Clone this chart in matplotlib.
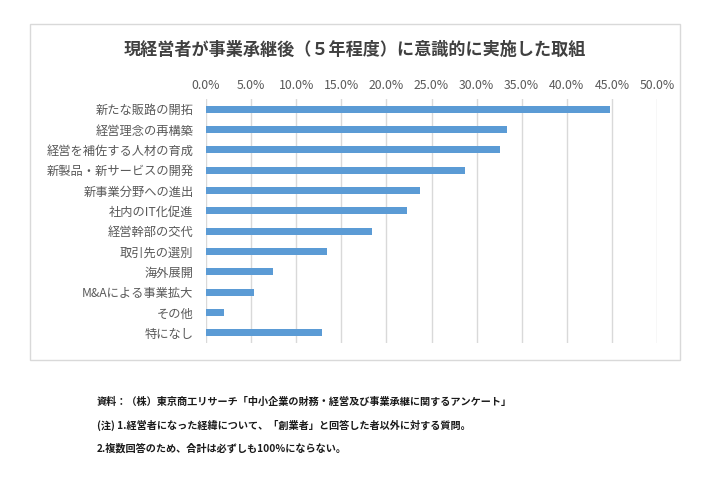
import matplotlib
matplotlib.use('Agg')
import matplotlib.pyplot as plt
from matplotlib.patches import Rectangle
from matplotlib.ticker import FuncFormatter

plt.rcParams['font.family'] = ['Noto Sans CJK JP', 'DejaVu Sans']

# 取組の項目（上から順）
categories = ['新たな販路の開拓', '経営理念の再構築', '経営を補佐する人材の育成',
              '新製品・新サービスの開発', '新事業分野への進出', '社内のIT化促進',
              '経営幹部の交代', '取引先の選別', '海外展開', 'M&Aによる事業拡大',
              'その他', '特になし']
values = [44.8, 33.4, 32.6, 28.7, 23.7, 22.3, 18.4, 13.4, 7.4, 5.3, 2.0, 12.9]
ticks = [0, 5, 10, 15, 20, 25, 30, 35, 40, 45, 50]

title = '現経営者が事業承継後（５年程度）に意識的に実施した取組'
notes = ['資料：（株）東京商工リサーチ「中小企業の財務・経営及び事業承継に関するアンケート」',
         '(注) 1.経営者になった経緯について、「創業者」と回答した者以外に対する質問。',
         '2.複数回答のため、合計は必ずしも100%にならない。']

fig = plt.figure(figsize=(7.21, 4.82), dpi=100)
fig.patch.set_facecolor('white')

# グラフの枠
fig.patches.append(Rectangle((30/721, 1-360/482), 650/721, 336/482,
                             transform=fig.transFigure, fill=False,
                             edgecolor='#D9D9D9', linewidth=1.0))

ax = fig.add_axes([206/721, 1-343/482, 451/721, 244/482])
ax.barh(range(len(categories)), values, height=0.36, color='#5B9BD5', zorder=3)
ax.set_ylim(len(categories)-0.5, -0.5)
ax.set_xlim(0, 50)
ax.set_xticks(ticks)
ax.xaxis.set_major_formatter(FuncFormatter(lambda v, p: '%.1f%%' % v))
ax.xaxis.tick_top()
ax.set_yticks(range(len(categories)))
ax.set_yticklabels(categories)
ax.tick_params(axis='both', length=0, labelsize=8.8, colors='#595959')
ax.tick_params(axis='x', pad=5)
ax.tick_params(axis='y', pad=9)
ax.grid(axis='x', color='#D9D9D9', linewidth=1.0, zorder=0)
for s in ax.spines.values():
    s.set_visible(False)

fig.text(355/721, 1-50/482, title, ha='center', va='center',
         fontsize=12.3, fontweight='bold', color='#404040')

for i, t in enumerate(notes):
    fig.text(97/721, 1-(402+23.5*i)/482, t, ha='left', va='center',
             fontsize=7.3, fontweight='bold', color='#1a1a1a')

plt.savefig('out.png', dpi=100)
